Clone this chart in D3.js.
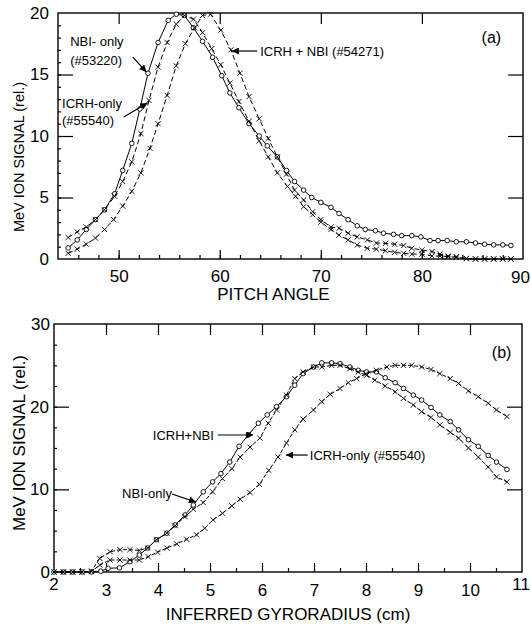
<!DOCTYPE html>
<html>
<head>
<meta charset="utf-8">
<script src="https://cdn.jsdelivr.net/npm/d3@7"></script>
<style>
  body { margin: 0; background: #fff; }
  svg { display: block; font-family: "Liberation Sans", Arial, Helvetica, sans-serif; }
  .ax path { display: none; }
  .ax line { stroke: #000; stroke-width: 1.2; }
</style>
</head>
<body>
<svg width="531" height="625"></svg>
<script>
// ---- panel (a): pitch angle (deg) vs MeV ion signal
var nbiA_x = [45.0, 45.9, 46.8, 47.7, 48.6, 49.6, 50.4, 51.3, 52.1, 52.9, 53.9, 54.9, 55.7, 56.5, 57.4, 58.3, 59.3, 60.2, 61.0, 61.9, 62.9, 63.9, 64.7, 65.7, 66.6, 67.4, 68.3, 69.1, 70.0, 71.0, 71.8, 72.7, 73.6, 74.4, 75.4, 76.2, 77.2, 78.0, 79.0, 79.9, 80.8, 81.6, 82.5, 83.4, 84.4, 85.3, 86.2, 87.1, 88.0, 88.8]
var nbiA_y = [0.9, 1.55, 2.4, 3.2, 4.0, 5.3, 7.2, 9.4, 12.2, 15.1, 17.6, 19.4, 19.9, 19.8, 18.8, 17.7, 16.4, 14.9, 13.5, 12.3, 11.0, 10.0, 9.2, 8.3, 7.2, 6.3, 5.6, 5.0, 4.6, 4.2, 3.7, 3.2, 2.7, 2.4, 2.3, 2.1, 2.0, 1.9, 1.9, 1.8, 1.5, 1.5, 1.5, 1.4, 1.4, 1.3, 1.2, 1.15, 1.15, 1.1]

var icrhA_x = [45.0, 45.9, 46.8, 47.7, 48.6, 49.6, 50.4, 51.3, 52.2, 53.0, 53.9, 54.8, 55.7, 56.5, 57.4, 58.3, 59.2, 60.1, 61.0, 61.9, 62.9, 63.9, 64.8, 65.7, 66.7, 67.5, 68.3, 69.2, 70.0, 71.0, 71.8, 72.7, 73.6, 74.6, 75.5, 76.4, 77.3, 78.2, 79.0, 80.0, 81.0, 81.8, 82.6, 83.4, 84.4, 85.3, 86.2, 87.1, 88.0, 88.8]
var icrhA_y = [1.75, 2.2, 2.6, 3.2, 4.0, 5.1, 6.3, 7.9, 10.2, 12.9, 15.6, 17.6, 19.1, 19.8, 19.5, 18.4, 17.1, 15.8, 14.3, 12.8, 11.2, 9.6, 8.3, 7.0, 5.9, 5.1, 4.25, 3.6, 3.0, 2.4, 1.95, 1.55, 1.14, 0.87, 0.8, 0.67, 0.54, 0.46, 0.4, 0.4, 0.24, 0.24, 0.19, 0.14, 0.03, 0, 0, 0, 0, 0]

var bothA_x = [45.0, 45.9, 46.8, 47.7, 48.6, 49.5, 50.4, 51.3, 52.2, 53.1, 53.9, 54.8, 55.7, 56.6, 57.5, 58.3, 59.1, 60.1, 61.1, 62.0, 62.9, 63.9, 64.8, 65.7, 66.6, 67.4, 68.3, 69.2, 70.0, 71.0, 71.8, 72.7, 73.6, 74.6, 75.5, 76.4, 77.3, 78.2, 79.0, 80.0, 81.0, 81.8, 82.6, 83.4, 84.4, 85.3, 86.2, 87.1, 88.0, 88.8]
var bothA_y = [0.46, 0.8, 1.2, 1.7, 2.4, 3.2, 4.3, 5.5, 7.0, 9.0, 11.0, 13.3, 15.7, 17.5, 18.8, 19.8, 19.9, 18.6, 17.0, 15.1, 13.2, 11.4, 9.8, 8.3, 6.9, 5.6, 4.8, 3.85, 3.2, 2.6, 2.5, 2.1, 1.8, 1.55, 1.3, 1.27, 1.2, 1.1, 0.87, 0.73, 0.6, 0.4, 0.24, 0.19, 0.05, 0, 0, 0, 0, 0]

var ticksA_x = [50, 60, 70, 80, 90]
var ticksA_y = [0, 5, 10, 15, 20]

// ---- panel (b): inferred gyroradius (cm) vs MeV ion signal
var bothB_x = [2.0, 2.18, 2.36, 2.54, 2.72, 2.9, 3.04, 3.26, 3.46, 3.64, 3.8, 3.97, 4.17, 4.33, 4.52, 4.68, 4.87, 5.05, 5.21, 5.38, 5.56, 5.74, 5.93, 6.1, 6.28, 6.47, 6.63, 6.79, 6.99, 7.15, 7.34, 7.5, 7.69, 7.85, 8.01, 8.2, 8.37, 8.56, 8.72, 8.91, 9.07, 9.25, 9.42, 9.62, 9.78, 9.97, 10.16, 10.35, 10.51, 10.71]
var bothB_y = [0, 0, 0, 0, 0, 0.1, 0.45, 0.5, 1.25, 2.05, 2.9, 3.9, 4.7, 5.7, 6.9, 8.1, 9.7, 10.9, 11.9, 13.3, 15.2, 16.6, 18.0, 19.0, 20.0, 21.2, 22.6, 24.0, 24.8, 25.3, 25.3, 25.2, 24.8, 24.4, 24.2, 24.2, 23.5, 22.9, 22.2, 21.4, 20.8, 19.9, 19.0, 18.2, 17.2, 16.0, 15.2, 14.1, 13.3, 12.4]

var nbiB_x = [2.0, 2.18, 2.36, 2.54, 2.72, 2.88, 3.08, 3.27, 3.46, 3.64, 3.8, 3.97, 4.17, 4.33, 4.52, 4.68, 4.87, 5.05, 5.24, 5.42, 5.58, 5.77, 5.96, 6.12, 6.28, 6.47, 6.63, 6.79, 6.99, 7.15, 7.34, 7.5, 7.69, 7.85, 8.01, 8.17, 8.37, 8.56, 8.72, 8.91, 9.07, 9.25, 9.42, 9.62, 9.78, 9.97, 10.16, 10.35, 10.51, 10.71]
var nbiB_y = [0, 0, 0, 0, 0.1, 1.65, 2.45, 2.7, 2.7, 2.6, 2.9, 3.9, 4.7, 5.6, 6.7, 7.6, 8.4, 9.7, 11.3, 12.5, 13.9, 15.1, 16.2, 18.0, 19.6, 21.4, 23.4, 24.2, 24.8, 24.8, 25.0, 25.0, 24.6, 24.2, 23.8, 23.2, 22.5, 21.8, 21.0, 20.2, 19.4, 18.7, 17.8, 16.9, 16.2, 15.0, 13.9, 12.7, 11.5, 10.9]

var icrhB_x = [2.0, 2.18, 2.36, 2.54, 2.72, 2.88, 3.08, 3.27, 3.46, 3.64, 3.81, 3.99, 4.17, 4.36, 4.55, 4.74, 4.9, 5.06, 5.24, 5.42, 5.58, 5.77, 5.95, 6.13, 6.31, 6.47, 6.63, 6.79, 6.99, 7.15, 7.31, 7.5, 7.66, 7.82, 8.0, 8.2, 8.4, 8.56, 8.72, 8.88, 9.07, 9.25, 9.42, 9.62, 9.78, 9.97, 10.16, 10.35, 10.51, 10.71]
var icrhB_y = [0, 0, 0, 0, 0.05, 0.85, 1.45, 1.45, 1.45, 1.45, 1.85, 2.4, 2.9, 3.4, 3.95, 4.5, 5.3, 6.3, 7.1, 8.0, 8.8, 9.6, 10.6, 12.3, 13.9, 15.6, 17.2, 18.5, 19.6, 20.6, 21.5, 22.2, 22.9, 23.4, 24.0, 24.4, 24.8, 25.0, 25.0, 25.0, 24.8, 24.5, 24.0, 23.4, 22.8, 21.9, 21.2, 20.4, 19.6, 18.8]

var ticksB_x = [2, 3, 4, 5, 6, 7, 8, 9, 10, 11]
var ticksB_y = [0, 10, 20, 30]

var svg = d3.select("svg")

function zip(xs, ys) { return xs.map((v, i) => [v, ys[i]]) }

// arrowhead
svg.append("defs").append("marker")
    .attr("id", "ah").attr("viewBox", "0 0 10 10").attr("refX", 10).attr("refY", 5)
    .attr("markerWidth", 10).attr("markerHeight", 7).attr("markerUnits", "userSpaceOnUse")
    .attr("orient", "auto")
    .append("path").attr("d", "M0,0L10,5L0,10z").attr("fill", "#000")

function drawPanel(p) {
    var sx = d3.scaleLinear().domain(p.xdom).range([p.left, p.right]),
        sy = d3.scaleLinear().domain(p.ydom).range([p.bottom, p.top])
    var g = svg.append("g")

    // axes (ticks pointing inward)
    g.append("g").attr("class", "ax").attr("transform", "translate(0," + p.bottom + ")")
        .call(d3.axisBottom(sx).tickValues(p.minX).tickSize(-4).tickFormat(""))
    g.append("g").attr("class", "ax").attr("transform", "translate(0," + p.bottom + ")")
        .call(d3.axisBottom(sx).tickValues(p.xt).tickSize(-9).tickPadding(p.xpad).tickFormat(d3.format("d")))
        .selectAll("text").attr("font-size", 17).attr("fill", "#000").attr("font-family", null)
    g.append("g").attr("class", "ax").attr("transform", "translate(0," + p.top + ")")
        .call(d3.axisTop(sx).tickValues(p.xt).tickSize(-11).tickFormat(""))
    g.append("g").attr("class", "ax").attr("transform", "translate(" + p.left + ",0)")
        .call(d3.axisLeft(sy).tickValues(p.minY).tickSize(-3).tickFormat(""))
    g.append("g").attr("class", "ax").attr("transform", "translate(" + p.left + ",0)")
        .call(d3.axisLeft(sy).tickValues(p.yt).tickSize(-15).tickPadding(p.ypad).tickFormat(d3.format("d")))
        .selectAll("text").attr("font-size", 17).attr("fill", "#000").attr("font-family", null)
    g.append("g").attr("class", "ax").attr("transform", "translate(" + p.right + ",0)")
        .call(d3.axisRight(sy).tickValues(p.yt).tickSize(-15).tickFormat(""))

    g.append("rect").attr("x", p.left).attr("y", p.top)
        .attr("width", p.right - p.left).attr("height", p.bottom - p.top)
        .attr("fill", "none").attr("stroke", "#000").attr("stroke-width", 1.4)

    var line = d3.line().x(d => sx(d[0])).y(d => sy(d[1]))

    p.series.forEach(function (s) {
        var pts = zip(s.x, s.y)
        g.append("path").datum(pts).attr("d", line)
            .attr("fill", "none").attr("stroke", "#000").attr("stroke-width", 1)
            .attr("stroke-dasharray", s.dash || null)
        if (s.mark == "o") {
            g.selectAll(null).data(pts).enter().append("circle")
                .attr("cx", d => sx(d[0])).attr("cy", d => sy(d[1])).attr("r", 2.3)
                .attr("fill", "#fff").attr("stroke", "#000").attr("stroke-width", 0.9)
        } else {
            g.selectAll(null).data(pts).enter().append("path")
                .attr("transform", d => "translate(" + sx(d[0]) + "," + sy(d[1]) + ")")
                .attr("d", "M-2.6,-2.6L2.6,2.6M-2.6,2.6L2.6,-2.6")
                .attr("stroke", "#000").attr("stroke-width", 0.9)
        }
    })

    // annotations
    p.notes.forEach(function (n) {
        g.append("text").attr("x", sx(n[0])).attr("y", sy(n[1]))
            .attr("font-size", n[3] || 13).text(n[2])
    })
    p.arrows.forEach(function (a) {
        g.append("line").attr("x1", sx(a[0])).attr("y1", sy(a[1]))
            .attr("x2", sx(a[2])).attr("y2", sy(a[3]))
            .attr("stroke", "#000").attr("stroke-width", 1.2).attr("marker-end", "url(#ah)")
    })

    // axis titles
    g.append("text").attr("x", (p.left + p.right) / 2 + p.xtOff).attr("y", p.xtY)
        .attr("text-anchor", "middle").attr("font-size", 17).text(p.xtitle)
    g.append("text").attr("transform", "translate(" + p.ytX + "," + ((p.top + p.bottom) / 2 + p.ytOff) + ") rotate(-90)")
        .attr("text-anchor", "middle").attr("font-size", p.ytSize).text("MeV ION SIGNAL (rel.)")
}

drawPanel({
    xdom: [44, 90], ydom: [0, 20], left: 58, right: 523, top: 13, bottom: 259,
    xt: ticksA_x.slice(0, 4), yt: ticksA_y.slice(1, 4),
    minX: d3.range(46, 90, 2), minY: d3.range(1, 20, 1),
    xpad: 11, ypad: 9,
    series: [
        {x: nbiA_x, y: nbiA_y, mark: "o"},
        {x: icrhA_x, y: icrhA_y, mark: "x", dash: "5,3"},
        {x: bothA_x, y: bothA_y, mark: "x", dash: "5,3"}
    ],
    notes: [
        [45.2, 17.3, "NBI- only"], [45.2, 15.75, "(#53220)"],
        [44.4, 12.28, "ICRH-only"], [44.4, 10.9, "(#55540)"],
        [64.0, 16.5, "ICRH  + NBI (#54271)"], [85.9, 17.55, "(a)", 16]
    ],
    arrows: [[51.4, 16.42, 52.75, 15.2], [50.5, 11.54, 52.85, 12.68], [63.7, 16.91, 61.2, 16.91]],
    xtitle: "PITCH ANGLE", xtY: 300, xtOff: -17, ytX: 24, ytOff: 21, ytSize: 14.5
})

drawPanel({
    xdom: [2, 11], ydom: [0, 30], left: 54, right: 522, top: 324, bottom: 572,
    xt: ticksB_x.slice(1, 9), yt: ticksB_y.slice(1, 3),
    minX: d3.range(2.5, 11, 1), minY: d3.range(2.5, 30, 2.5),
    xpad: 12, ypad: 5,
    series: [
        {x: bothB_x, y: bothB_y, mark: "o"},
        {x: nbiB_x, y: nbiB_y, mark: "x", dash: "4,2"},
        {x: icrhB_x, y: icrhB_y, mark: "x", dash: "4,2"}
    ],
    notes: [
        [3.9, 15.96, "ICRH+NBI"], [3.31, 8.95, "NBI-only"],
        [6.92, 13.54, "ICRH-only (#55540)"], [10.42, 25.9, "(b)", 16]
    ],
    arrows: [[5.15, 16.57, 5.83, 16.57], [4.27, 9.43, 4.73, 8.46], [6.88, 14.15, 6.46, 14.15]],
    xtitle: "INFERRED GYRORADIUS (cm)", xtY: 620, xtOff: 0, ytX: 25, ytOff: -5, ytSize: 17
})

// end labels that sit on the frame corners
var labels = svg.append("g").attr("font-size", 17)
labels.append("text").attr("x", 49).attr("y", 265).attr("text-anchor", "end").text(ticksA_y[0])
labels.append("text").attr("x", 49).attr("y", 19).attr("text-anchor", "end").text(ticksA_y[4])
labels.append("text").attr("x", 530).attr("y", 283).attr("text-anchor", "end").text(ticksA_x[4])
labels.append("text").attr("x", 50).attr("y", 578).attr("text-anchor", "end").text(ticksB_y[0])
labels.append("text").attr("x", 50).attr("y", 330).attr("text-anchor", "end").text(ticksB_y[3])
labels.append("text").attr("x", 54).attr("y", 590).attr("text-anchor", "middle").text(ticksB_x[0])
labels.append("text").attr("x", 530).attr("y", 590).attr("text-anchor", "end").text(ticksB_x[9])
</script>
</body>
</html>
